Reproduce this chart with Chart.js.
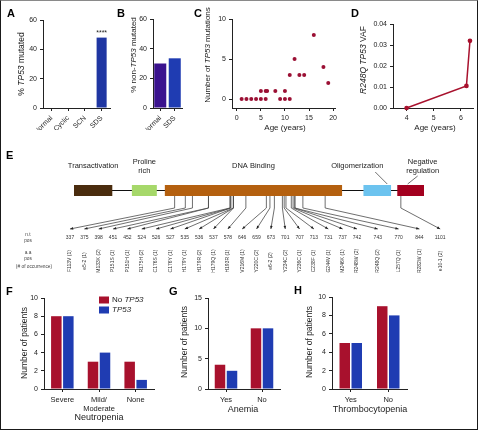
<!DOCTYPE html>
<html>
<head>
<meta charset="utf-8">
<script src="https://cdn.jsdelivr.net/npm/chart.js@4.4.1/dist/chart.umd.min.js"></script>
<style>
    html, body { margin: 0; padding: 0; background: #fff; }
    #fig { position: relative; width: 479px; height: 431px; overflow: hidden; }
    #fig canvas { position: absolute; left: 0; top: 0; }
    #frame { position: absolute; left: 0; top: 0; width: 478px; height: 430px; box-sizing: border-box;
             border: 1.5px solid #1a1a1a; border-top: 1.5px solid #8a8a8a; }
</style>
</head>
<body>
<div id="fig"><div id="frame"></div></div>
<script>
// ---- Data ----
// A
const aCategories = ['Normal', 'Cyclic', 'SCN', 'SDS'];
const aMutated = [0, 0, 0, 48];
const aStars = ['', '', '', '****'];
const pctTicks = [0, 20, 40, 60];
// B
const bCategories = ['Normal', 'SDS'];
const bNonTp53 = [30, 33.5];
// C
const cAge = [1, 2, 3, 4, 5, 6, 9, 10, 11, 5, 6, 6.3, 8, 10, 11, 13, 14, 12, 16, 18, 19];
const cMutations = [0, 0, 0, 0, 0, 0, 0, 0, 0, 1, 1, 1, 1, 1, 3, 3, 3, 5, 8, 4, 2];
const cAgeTicks = [0, 5, 10, 15, 20];
const cCountTicks = [0, 5, 10];
// D
const dAge = [4, 6.2, 6.33];
const dVaf = [0, 0.0105, 0.032];
const dAgeTicks = [4, 5, 6];
const dVafTicks = [0, 0.01, 0.02, 0.03, 0.04];
// E
const proteinLength = 393;
const domainNames = [['Transactivation'], ['Proline', 'rich'], ['DNA Binding'], ['Oligomerization'], ['Negative', 'regulation']];
const domainStart = [0, 65, 102, 325, 363];
const domainEnd = [43, 93, 301, 356, 393];
const mutNt = [337, 375, 398, 451, 452, 524, 526, 527, 535, 536, 537, 578, 646, 659, 673,
               701, 707, 713, 731, 737, 742, 743, 770, 844, 1101];
const mutAa = ['F113V', 'e5-2', 'M133K', 'P151S', 'P151H', 'R175H', 'C176S', 'C176Y', 'H179Y', 'H179R',
               'H179Q', 'H193R', 'V216M', 'Y220C', 'e6-2', 'Y234C', 'Y236C', 'C238F', 'G244V', 'M246K',
               'R248W', 'R248Q', 'L257Q', 'R282W', 'e10-1'];
const mutCount = [1, 1, 2, 1, 1, 2, 1, 1, 1, 2, 1, 1, 1, 2, 2, 2, 1, 1, 1, 1, 2, 2, 1, 1, 2];
// F, G, H
const seriesNames = ['No TP53', 'TP53'];
const fCategories = ['Severe', ['Mild/', 'Moderate'], 'None'];
const fNoTp53 = [8, 3, 3];
const fTp53 = [8, 4, 1];
const fTicks = [0, 2, 4, 6, 8, 10];
const gCategories = ['Yes', 'No'];
const gNoTp53 = [4, 10];
const gTp53 = [3, 10];
const gTicks = [0, 5, 10, 15];
const hCategories = ['Yes', 'No'];
const hNoTp53 = [5, 9];
const hTp53 = [5, 8];
const hTicks = [0, 2, 4, 6, 8, 10];

// ---- Style ----
const FONT = '"Liberation Sans", Arial, Helvetica, sans-serif';
const INK = '#222';
const RED = '#a8112d';
const BLUE = '#1f3cb2';
const PURPLE = '#3a128e';
const DOMAIN_COLORS = ['#4a2c0e', '#a6d86a', '#b4600f', '#6cc3ef', '#a3001f'];
const W = 479, H = 431, Y_W = 22, X_H = 22;

Chart.defaults.font.family = FONT;
Chart.defaults.color = INK;

// Gene / mutation names are italic
function segs(text) {
    return text.split(/(TP53|R\d+[A-Z])/).filter(s => s).map(s => [s, /^(TP53|R\d+[A-Z])$/.test(s)]);
}

function drawRich(ctx, it) {
    const parts = segs(it.t);
    const size = it.size || 8;
    const weight = it.bold ? 'bold ' : '';
    const fontOf = ital => (ital ? 'italic ' : '') + weight + size + 'px ' + FONT;
    ctx.save();
    ctx.translate(it.x, it.y);
    if (it.rot) ctx.rotate(it.rot * Math.PI / 180);
    ctx.fillStyle = it.color || INK;
    ctx.textBaseline = 'middle';
    ctx.textAlign = 'left';
    let total = 0;
    parts.forEach(([s, ital]) => { ctx.font = fontOf(ital); total += ctx.measureText(s).width; });
    let x = it.align === 'left' ? 0 : -total / 2;
    parts.forEach(([s, ital]) => {
        ctx.font = fontOf(ital);
        ctx.fillText(s, x, 0);
        x += ctx.measureText(s).width;
    });
    ctx.restore();
}

function notes(items) {
    return { id: 'notes', afterDraw(chart) { items.forEach(it => drawRich(chart.ctx, it)); } };
}

// Legend boxes for F
function keyBox(x, y, gap) {
    return {
        id: 'keyBox',
        afterDraw(chart) {
            const ctx = chart.ctx;
            chart.data.datasets.forEach((ds, i) => {
                const yy = y + i * gap;
                ctx.fillStyle = ds.backgroundColor;
                ctx.fillRect(x, yy - 3.5, 10, 7);
                drawRich(ctx, { t: ds.label, x: x + 13, y: yy, size: 8, align: 'left' });
            });
        }
    };
}

// Significance stars above bars
const starsPlugin = {
    id: 'stars',
    afterDatasetsDraw(chart) {
        const meta = chart.getDatasetMeta(0);
        const ctx = chart.ctx;
        ctx.save();
        ctx.fillStyle = INK;
        ctx.font = '7px ' + FONT;
        ctx.textAlign = 'center';
        ctx.textBaseline = 'bottom';
        aStars.forEach((s, i) => { if (s) ctx.fillText(s, meta.data[i].x, meta.data[i].y - 1); });
        ctx.restore();
    }
};

function linAxis(min, max, ticks, fmt) {
    return {
        type: 'linear', min: min, max: max,
        afterBuildTicks: s => { s.ticks = ticks.map(v => ({ value: v })); },
        border: { display: true, color: INK, width: 1 },
        grid: { drawOnChartArea: false, drawTicks: true, tickLength: 3, color: INK },
        ticks: { color: INK, padding: 3, font: { family: FONT, size: 7 }, callback: fmt || (v => v) }
    };
}

function catAxis(rotation, size) {
    return {
        type: 'category',
        border: { display: true, color: INK, width: 1 },
        grid: { drawOnChartArea: false, drawTicks: true, tickLength: 3, color: INK, offset: false },
        ticks: { color: INK, padding: 3, autoSkip: false, minRotation: rotation, maxRotation: rotation,
                 font: { family: FONT, size: size || 7.5, lineHeight: 1.2 } }
    };
}

// Every chart gets a full-size transparent canvas; the plot area is placed by padding
function place(area, config) {
    const canvas = document.createElement('canvas');
    canvas.width = W;
    canvas.height = H;
    document.getElementById('fig').appendChild(canvas);
    const o = config.options;
    const xs = o.scales.x, ys = o.scales.y;
    const yShown = ys.display !== false, xShown = xs.display !== false;
    if (yShown) ys.afterFit = s => { s.width = Y_W; };
    if (xShown) xs.afterFit = s => { s.height = X_H; };
    o.responsive = false;
    o.animation = false;
    o.events = [];
    o.layout = { padding: {
        left: area.l - (yShown ? Y_W : 0), top: area.t,
        right: W - area.r, bottom: H - area.b - (xShown ? X_H : 0)
    } };
    o.plugins = Object.assign({ legend: { display: false }, tooltip: { enabled: false } }, o.plugins || {});
    return new Chart(canvas, config);
}

// ---- A ----
place({ l: 43, t: 20, r: 110, b: 108 }, {
    type: 'bar',
    data: { labels: aCategories, datasets: [{ data: aMutated, backgroundColor: '#1f36a2',
            barPercentage: 0.6, categoryPercentage: 1 }] },
    options: { scales: { x: catAxis(45, 7), y: linAxis(0, 60, pctTicks) } },
    plugins: [starsPlugin, notes([
        { t: 'A', x: 7, y: 13.5, size: 11, bold: true, align: 'left', color: '#000' },
        { t: '% TP53 mutated', x: 22, y: 64, rot: -90, size: 8.5 }
    ])]
});

// ---- B ----
place({ l: 153, t: 19, r: 182, b: 108 }, {
    type: 'bar',
    data: { labels: bCategories, datasets: [{ data: bNonTp53, backgroundColor: [PURPLE, BLUE],
            barPercentage: 0.83, categoryPercentage: 1 }] },
    options: { scales: { x: catAxis(45, 7), y: linAxis(0, 60, pctTicks) } },
    plugins: [notes([
        { t: 'B', x: 117, y: 13.5, size: 11, bold: true, align: 'left', color: '#000' },
        { t: '% non-TP53 mutated', x: 134, y: 55, rot: -90, size: 8 }
    ])]
});

// ---- C ----
place({ l: 232, t: 19, r: 335, b: 108 }, {
    type: 'scatter',
    data: { datasets: [{ data: cAge.map((a, i) => ({ x: a, y: cMutations[i] })),
            backgroundColor: '#9b1034', borderWidth: 0, pointRadius: 2, clip: false }] },
    options: { scales: { x: linAxis(-1, 20.4, cAgeTicks), y: linAxis(-1.125, 10, cCountTicks) } },
    plugins: [notes([
        { t: 'C', x: 194, y: 13.5, size: 11, bold: true, align: 'left', color: '#000' },
        { t: 'Number of TP53 mutations', x: 208, y: 55, rot: -90, size: 8 },
        { t: 'Age (years)', x: 285, y: 128, size: 8 }
    ])]
});

// ---- D ----
place({ l: 393, t: 24, r: 476, b: 108 }, {
    type: 'line',
    data: { datasets: [{ data: dAge.map((a, i) => ({ x: a, y: dVaf[i] })),
            borderColor: RED, backgroundColor: RED, borderWidth: 1.5, pointRadius: 1.6,
            tension: 0, clip: false }] },
    options: { scales: { x: linAxis(3.5, 6.46, dAgeTicks), y: linAxis(0, 0.04, dVafTicks, v => v.toFixed(2)) } },
    plugins: [notes([
        { t: 'D', x: 351, y: 13.5, size: 11, bold: true, align: 'left', color: '#000' },
        { t: 'R248Q TP53 VAF', x: 364, y: 60, rot: -90, size: 8.5 },
        { t: 'Age (years)', x: 435, y: 128, size: 8 }
    ])]
});

// ---- E ----
const proteinPlugin = {
    id: 'protein',
    afterDraw(chart) {
        const ctx = chart.ctx;
        const xs = chart.scales.x, xl = chart.scales.x2;
        const lineY = 190.5, boxTop = 185, boxH = 11;
        const kneeY = 208, tipY = 229;
        ctx.save();

        // connectors from protein position to label
        ctx.strokeStyle = '#4a4a4a';
        ctx.fillStyle = '#222';
        ctx.lineWidth = 0.8;
        mutNt.forEach((nt, i) => {
            const xa = xs.getPixelForValue(Math.ceil(nt / 3));
            const slot = i <= 20 ? i : 20 + (i - 20) * 1.45;
            const xt = xl.getPixelForValue(slot);
            ctx.beginPath();
            ctx.moveTo(xa, boxTop + boxH);
            ctx.lineTo(xa, kneeY);
            ctx.lineTo(xt, tipY);
            ctx.stroke();
            const ang = Math.atan2(tipY - kneeY, xt - xa);
            ctx.beginPath();
            ctx.moveTo(xt, tipY);
            ctx.lineTo(xt - 3.2 * Math.cos(ang) + 1.3 * Math.sin(ang), tipY - 3.2 * Math.sin(ang) - 1.3 * Math.cos(ang));
            ctx.lineTo(xt - 3.2 * Math.cos(ang) - 1.3 * Math.sin(ang), tipY - 3.2 * Math.sin(ang) + 1.3 * Math.cos(ang));
            ctx.closePath();
            ctx.fill();

            ctx.font = '5px ' + FONT;
            ctx.textAlign = 'center';
            ctx.textBaseline = 'middle';
            ctx.fillStyle = '#333';
            ctx.fillText(String(nt), xt, 238);
            ctx.save();
            ctx.translate(xt, 261);
            ctx.rotate(-Math.PI / 2);
            ctx.fillText(mutAa[i] + ' (' + mutCount[i] + ')', 0, 0);
            ctx.restore();
            ctx.fillStyle = '#222';
        });

        // backbone and domains
        ctx.strokeStyle = '#111';
        ctx.lineWidth = 1.2;
        ctx.beginPath();
        ctx.moveTo(xs.getPixelForValue(0), lineY);
        ctx.lineTo(xs.getPixelForValue(proteinLength), lineY);
        ctx.stroke();
        domainStart.forEach((s, i) => {
            const x0 = xs.getPixelForValue(s), x1 = xs.getPixelForValue(domainEnd[i]);
            ctx.fillStyle = DOMAIN_COLORS[i];
            ctx.fillRect(x0, boxTop, x1 - x0, boxH);
        });

        // domain names, two of them pointing at their box
        const labelDx = [0, 0, 0, -20, 12];
        const pointer = [null, null, null, [18, 172, 10, 184], [-5, 176, -3, 184]];
        domainNames.forEach((lines, i) => {
            const cx = (xs.getPixelForValue(domainStart[i]) + xs.getPixelForValue(domainEnd[i])) / 2;
            const lx = cx + labelDx[i];
            lines.forEach((ln, k) => {
                const y = lines.length === 1 ? 166 : 161.5 + k * 9;
                drawRich(ctx, { t: ln, x: lx, y: y, size: 7.5 });
            });
            const p = pointer[i];
            if (p) {
                ctx.strokeStyle = '#333';
                ctx.lineWidth = 0.7;
                ctx.beginPath();
                ctx.moveTo(lx + p[0], p[1]);
                ctx.lineTo(cx + p[2], p[3]);
                ctx.stroke();
            }
        });

        // row captions
        ctx.fillStyle = '#444';
        ctx.font = '4.8px ' + FONT;
        ctx.textAlign = 'center';
        ctx.textBaseline = 'middle';
        ctx.fillText('n.t', 28, 235);
        ctx.fillText('pos', 28, 240.5);
        ctx.fillText('a.a', 28, 253);
        ctx.fillText('pos', 28, 258.5);
        ctx.fillText('(# of occurrence)', 34, 267);
        ctx.restore();
    }
};

place({ l: 74, t: 150, r: 424, b: 280 }, {
    type: 'scatter',
    data: { datasets: [] },
    options: { scales: {
        x: { type: 'linear', display: false, min: 0, max: proteinLength },
        x2: { type: 'linear', axis: 'x', display: false, min: 0.279, max: 24.67 },
        y: { type: 'linear', display: false, min: 0, max: 1 }
    } },
    plugins: [proteinPlugin, notes([
        { t: 'E', x: 6, y: 156, size: 11, bold: true, align: 'left', color: '#000' }
    ])]
});

// ---- F, G, H ----
function groupBars(labels, noTp53, tp53, catPct) {
    return { labels: labels, datasets: [
        { label: seriesNames[0], data: noTp53, backgroundColor: RED, barPercentage: 0.875, categoryPercentage: catPct },
        { label: seriesNames[1], data: tp53, backgroundColor: BLUE, barPercentage: 0.875, categoryPercentage: catPct }
    ] };
}

place({ l: 44, t: 298, r: 154, b: 389 }, {
    type: 'bar',
    data: groupBars(fCategories, fNoTp53, fTp53, 0.655),
    options: { scales: { x: catAxis(0, 7.5), y: linAxis(0, 10, fTicks) } },
    plugins: [keyBox(99, 300, 10), notes([
        { t: 'F', x: 6, y: 291.5, size: 11, bold: true, align: 'left', color: '#000' },
        { t: 'Number of patients', x: 25, y: 343, rot: -90, size: 8.5 },
        { t: 'Neutropenia', x: 99, y: 418, size: 9 }
    ])]
});

place({ l: 208, t: 298, r: 280, b: 389 }, {
    type: 'bar',
    data: groupBars(gCategories, gNoTp53, gTp53, 0.667),
    options: { scales: { x: catAxis(0, 7.5), y: linAxis(0, 15, gTicks) } },
    plugins: [notes([
        { t: 'G', x: 169, y: 291.5, size: 11, bold: true, align: 'left', color: '#000' },
        { t: 'Number of patients', x: 185, y: 342, rot: -90, size: 8.5 },
        { t: 'Anemia', x: 243, y: 410, size: 9 }
    ])]
});

place({ l: 332, t: 297, r: 407, b: 389 }, {
    type: 'bar',
    data: groupBars(hCategories, hNoTp53, hTp53, 0.64),
    options: { scales: { x: catAxis(0, 7.5), y: linAxis(0, 10, hTicks) } },
    plugins: [notes([
        { t: 'H', x: 294, y: 290.5, size: 11, bold: true, align: 'left', color: '#000' },
        { t: 'Number of patients', x: 310, y: 342, rot: -90, size: 8.5 },
        { t: 'Thrombocytopenia', x: 370, y: 410, size: 9 }
    ])]
});
</script>
</body>
</html>
